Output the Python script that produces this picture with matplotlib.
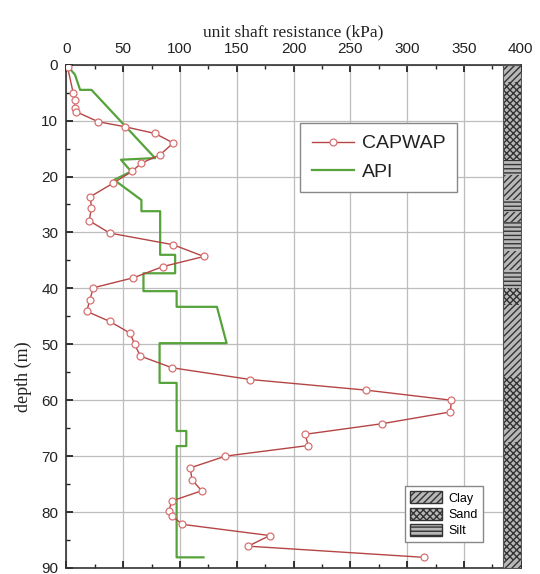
import matplotlib
matplotlib.use("Agg")
import matplotlib.pyplot as plt
from matplotlib.patches import Patch
from matplotlib.ticker import MultipleLocator

# CAPWAP back-analysis: unit shaft resistance (kPa) vs depth (m)
capwap_q = [1, 6, 7.5, 7.5, 8.4, 28, 51.6, 78, 94, 82.5, 66, 57.5, 41, 21, 22, 20,
            38, 94, 121, 85, 59, 23.6, 20.7, 17.8, 38, 56, 60, 65, 93, 162,
            264, 339, 338, 278, 210, 213, 140, 109, 110.5, 119, 93, 90, 93, 102,
            179, 160, 315]
capwap_z = [0.5, 5.1, 6.3, 7.8, 8.4, 10.2, 11.1, 12.3, 14, 16.1, 17.6, 19.1, 21.2, 23.6, 25.6, 27.9,
            30.1, 32.2, 34.3, 36.1, 38.1, 39.9, 42, 44.1, 45.9, 48, 50, 52.1, 54.2, 56.3,
            58.2, 60, 62.1, 64.2, 66.1, 68.1, 70, 72.1, 74.2, 76.2, 78, 79.8, 80.7, 82.2,
            84.2, 86.1, 88.1]

# API design profile
api_q = [0, 7.5, 12, 22, 78, 48, 57, 42, 66, 66, 82.5, 82.5, 95.7, 95.7, 67.8, 67.8,
         97, 97, 132.5, 141, 82, 82, 97, 97, 105.5, 105.5, 97, 97, 120.7]
api_z = [0, 1.8, 4.5, 4.5, 16.7, 17, 19.1, 20.6, 24.2, 26.2, 26.2, 34, 34, 37.3, 37.3, 40.5,
         40.5, 43.3, 43.3, 49.8, 49.8, 56.9, 56.9, 65.5, 65.5, 68.2, 68.2, 88.1, 88.1]

# soil profile
layer_top = [0, 3.1, 17, 19.7, 24.2, 26.3, 28.1, 33.4, 36.7, 39.9, 42.9, 55.9, 65.2, 67.4, 88.5]
layer_bot = layer_top[1:] + [90]
layer_soil = ['Clay', 'Sand', 'Silt', 'Clay', 'Silt', 'Clay', 'Silt', 'Clay', 'Silt', 'Sand',
              'Clay', 'Sand', 'Clay', 'Sand', 'Clay']
soil_hatch = {'Clay': '/////', 'Sand': 'xxxxx', 'Silt': '----'}

x_ticks = [0, 50, 100, 150, 200, 250, 300, 350, 400]
y_ticks = [0, 10, 20, 30, 40, 50, 60, 70, 80, 90]

plt.rcParams['hatch.linewidth'] = 1.0
sans = ['Liberation Sans', 'DejaVu Sans']
serif = ['Liberation Serif', 'DejaVu Serif']

fig = plt.figure(figsize=(5.4, 5.74), dpi=100)
ax = fig.add_axes([0.1231, 0.0105, 0.8412, 0.8768])

red = '#b54545'
green = '#55a33a'
ax.plot(capwap_q, capwap_z, color=red, lw=1.0, marker='o', ms=5,
        mfc='white', mec='#d97070', mew=0.9, label='CAPWAP', zorder=4)
ax.plot(api_q, api_z, color=green, lw=1.6, label='API', zorder=3)

# strata column on the right edge
soil_face = '#b8b8b8'
soil_line = '#333333'
for top, bot, soil in zip(layer_top, layer_bot, layer_soil):
    ax.fill_betweenx([top, bot], 384, 400, facecolor=soil_face, edgecolor=soil_line,
                     hatch=soil_hatch[soil], lw=0, zorder=5)
ax.fill_betweenx([0, 90], 384, 400, facecolor='none', edgecolor='#555555', lw=0.8, zorder=6)

ax.set_xlim(0, 400)
ax.set_ylim(90, 0)
ax.set_xticks(x_ticks)
ax.set_yticks(y_ticks)
ax.xaxis.set_minor_locator(MultipleLocator(25))
ax.yaxis.set_minor_locator(MultipleLocator(5))
ax.xaxis.tick_top()
ax.xaxis.set_label_position('top')
ax.tick_params(which='both', direction='in', top=True, bottom=True, left=True, right=False,
               color='#222222')
ax.tick_params(which='major', length=5, width=1.3, labelsize=11, pad=6)
ax.tick_params(which='minor', length=3, width=1.0)
for lab in ax.get_xticklabels() + ax.get_yticklabels():
    lab.set_family(sans)
    lab.set_color('#222222')
ax.grid(True, which='major', color='#bdbdbd', lw=0.9)
ax.set_axisbelow(True)
for sp in ax.spines.values():
    sp.set_color('#333333')
    sp.set_linewidth(1.2)

ax.set_xlabel('unit shaft resistance (kPa)', family=serif, fontsize=12.5, labelpad=4,
              color='#222222')
ax.set_ylabel('depth (m)', family=serif, fontsize=13, color='#222222')
ax.yaxis.set_label_coords(-0.075, 0.38)

leg1 = ax.legend(loc='upper left', bbox_to_anchor=(0.514, 0.884), borderaxespad=0,
                 prop={'family': sans, 'size': 14}, fancybox=False, edgecolor='#888888',
                 framealpha=1, handlelength=2.2, borderpad=0.6, labelspacing=0.55,
                 handletextpad=0.4)
leg1.get_frame().set_linewidth(1.0)
for t in leg1.get_texts():
    t.set_color('#222222')
ax.add_artist(leg1)

soil_handles = [Patch(facecolor=soil_face, edgecolor=soil_line, hatch=soil_hatch[s], label=s)
                for s in ['Clay', 'Sand', 'Silt']]
leg2 = ax.legend(handles=soil_handles, loc='lower left', bbox_to_anchor=(0.745, 0.051),
                 borderaxespad=0, prop={'family': sans, 'size': 9}, fancybox=False,
                 edgecolor='#888888', framealpha=1, handlelength=2.6, handleheight=1.1,
                 labelspacing=0.25, borderpad=0.4, handletextpad=0.5)
leg2.set_zorder(7)

fig.savefig('out.png', dpi=100)
